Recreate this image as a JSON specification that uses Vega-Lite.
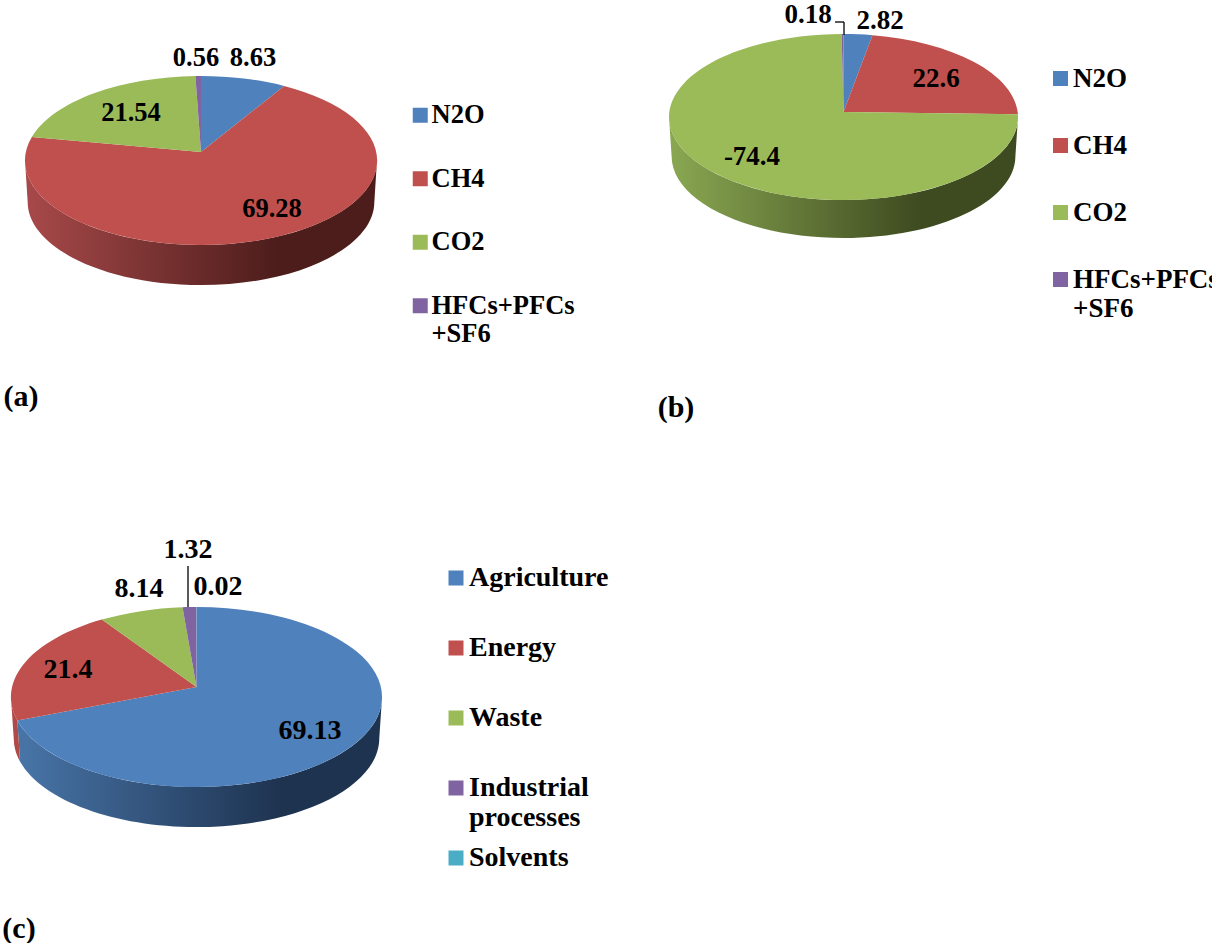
{"$schema":"https://vega.github.io/schema/vega-lite/v6.json","width":1212,"height":943,"autosize":{"type":"none"},"padding":0,"background":"white","config":{"view":{"stroke":null},"legend":{"title":null,"symbolType":"square","symbolSize":225,"symbolStrokeWidth":0,"labelFont":"Liberation Serif","labelFontWeight":"bold","labelColor":"black","labelLimit":400,"orient":"none"}},
"data":{"values":[
{"panel":"a","gas":"N2O","value":8.63},{"panel":"a","gas":"CH4","value":69.28},{"panel":"a","gas":"CO2","value":21.54},{"panel":"a","gas":"HFCs+PFCs +SF6","value":0.56},
{"panel":"b","gas":"N2O","value":2.82},{"panel":"b","gas":"CH4","value":22.6},{"panel":"b","gas":"CO2","value":-74.4},{"panel":"b","gas":"HFCs+PFCs +SF6","value":0.18},
{"panel":"c","gas":"Agriculture","value":69.13},{"panel":"c","gas":"Energy","value":21.4},{"panel":"c","gas":"Waste","value":8.14},{"panel":"c","gas":"Industrial processes","value":1.32},{"panel":"c","gas":"Solvents","value":0.02}]},
"transform":[
{"calculate":"abs(datum.value)","as":"share"},
{"calculate":"''+datum.value","as":"label"},
{"calculate":"datum.panel+'|'+datum.gas","as":"key"},
{"stack":"share","groupby":["panel"],"as":["s0","s1"]},
{"joinaggregate":[{"op":"sum","field":"share","as":"total"}],"groupby":["panel"]},
{"calculate":"{a:{rx:175.1,ry:83.7,k:0.1006,ex:176,ey:84.5,ce:8.5,d:41.3,cx:201,ay:152,fs:26.5},b:{rx:174.2,ry:82.7,k:0.0602,ex:174.5,ey:83,ce:5,d:39.3,cx:843.5,ay:112,fs:27},c:{rx:184.4,ry:88.9,k:0.111,ex:185.5,ey:90,ce:10,d:41.4,cx:196.5,ay:687,fs:28}}[datum.panel]","as":"geo"},
{"calculate":"datum.geo.cx","as":"cx"},{"calculate":"datum.geo.ay","as":"ay"},{"calculate":"datum.geo.fs","as":"fs"},
{"calculate":"2*PI*datum.s0/datum.total","as":"a0"},
{"calculate":"2*PI*datum.s1/datum.total","as":"a1"},
{"calculate":"(datum.a0+datum.a1)/2","as":"am"},
{"calculate":"round(100*datum.geo.rx*sin(datum.a0)/(1+datum.geo.k*cos(datum.a0)))/100","as":"x0"},
{"calculate":"round(-100*datum.geo.ry*cos(datum.a0)/(1+datum.geo.k*cos(datum.a0)))/100","as":"y0"},
{"calculate":"round(100*datum.geo.rx*sin(datum.am)/(1+datum.geo.k*cos(datum.am)))/100","as":"xm"},
{"calculate":"round(-100*datum.geo.ry*cos(datum.am)/(1+datum.geo.k*cos(datum.am)))/100","as":"ym"},
{"calculate":"round(100*datum.geo.rx*sin(datum.a1)/(1+datum.geo.k*cos(datum.a1)))/100","as":"x1"},
{"calculate":"round(-100*datum.geo.ry*cos(datum.a1)/(1+datum.geo.k*cos(datum.a1)))/100","as":"y1"},
{"calculate":"datum.geo.ex+','+datum.geo.ey+' 0 0 1 '","as":"arc"},
{"calculate":"'M0,0L'+datum.x0+','+datum.y0+'A'+datum.arc+datum.xm+','+datum.ym+'A'+datum.arc+datum.x1+','+datum.y1+'Z'","as":"top"},
{"calculate":"max(datum.a0,acos(-datum.geo.k))","as":"b0"},
{"calculate":"min(datum.a1,2*PI-acos(-datum.geo.k))","as":"b1"},
{"calculate":"(datum.b0+datum.b1)/2","as":"bm"},
{"calculate":"round(100*datum.geo.rx*sin(datum.b0)/(1+datum.geo.k*cos(datum.b0)))/100","as":"wx0"},
{"calculate":"round(-100*datum.geo.ry*cos(datum.b0)/(1+datum.geo.k*cos(datum.b0)))/100","as":"wy0"},
{"calculate":"round(100*datum.geo.rx*sin(datum.bm)/(1+datum.geo.k*cos(datum.bm)))/100","as":"wxm"},
{"calculate":"round(-100*datum.geo.ry*cos(datum.bm)/(1+datum.geo.k*cos(datum.bm)))/100","as":"wym"},
{"calculate":"round(100*datum.geo.rx*sin(datum.b1)/(1+datum.geo.k*cos(datum.b1)))/100","as":"wx1"},
{"calculate":"round(-100*datum.geo.ry*cos(datum.b1)/(1+datum.geo.k*cos(datum.b1)))/100","as":"wy1"},
{"calculate":"round(98.5*datum.wx0)/100+','+round(100*(datum.geo.ce+datum.geo.d+(datum.wy0-datum.geo.ce)*0.985))/100","as":"f0"},
{"calculate":"round(98.5*datum.wxm)/100+','+round(100*(datum.geo.ce+datum.geo.d+(datum.wym-datum.geo.ce)*0.985))/100","as":"fm"},
{"calculate":"round(98.5*datum.wx1)/100+','+round(100*(datum.geo.ce+datum.geo.d+(datum.wy1-datum.geo.ce)*0.985))/100","as":"f1"},
{"calculate":"round(98.5*datum.geo.ex)/100+','+round(98.5*datum.geo.ey)/100+' 0 0 0 '","as":"arcb"},
{"calculate":"'M'+datum.wx0+','+datum.wy0+'A'+datum.arc+datum.wxm+','+datum.wym+'A'+datum.arc+datum.wx1+','+datum.wy1+'L'+datum.f1+'A'+datum.arcb+datum.fm+'A'+datum.arcb+datum.f0+'Z'","as":"wall"},
{"calculate":"{'a|N2O':[253,58],'a|CH4':[272,209],'a|CO2':[131,113],'a|HFCs+PFCs +SF6':[196,58],'b|N2O':[880,21],'b|CH4':[936,79],'b|CO2':[752,157],'b|HFCs+PFCs +SF6':[808,15],'c|Agriculture':[310,731],'c|Energy':[68,670],'c|Waste':[139,589],'c|Industrial processes':[188,550],'c|Solvents':[218,587]}[datum.key]","as":"lp"},
{"calculate":"datum.lp[0]","as":"lx"},{"calculate":"datum.lp[1]","as":"ly"}
],
"layer":[
{"transform":[{"filter":"datum.key=='a|CH4'"}],"mark":{"type":"point","filled":true,"opacity":1,"strokeWidth":0,"fill":{"gradient":"linear","x1":0,"x2":1,"y1":0,"y2":0,"stops":[{"offset":0,"color":"#a8494a"},{"offset":0.72,"color":"#4c1d1b"},{"offset":1,"color":"#4c1d1b"}]}},"encoding":{"x":{"field":"cx","type":"quantitative","scale":{"domain":[0,1212],"nice":false,"zero":false},"axis":null},"y":{"field":"ay","type":"quantitative","scale":{"domain":[943,0],"nice":false,"zero":false},"axis":null},"size":{"value":4},"shape":{"field":"wall","type":"nominal","scale":null,"legend":null}}},
{"transform":[{"filter":"datum.key=='b|CO2'"}],"mark":{"type":"point","filled":true,"opacity":1,"strokeWidth":0,"fill":{"gradient":"linear","x1":0,"x2":1,"y1":0,"y2":0,"stops":[{"offset":0,"color":"#8aa852"},{"offset":0.72,"color":"#3e4a20"},{"offset":1,"color":"#3e4a20"}]}},"encoding":{"x":{"field":"cx","type":"quantitative","scale":{"domain":[0,1212],"nice":false,"zero":false},"axis":null},"y":{"field":"ay","type":"quantitative","scale":{"domain":[943,0],"nice":false,"zero":false},"axis":null},"size":{"value":4},"shape":{"field":"wall","type":"nominal","scale":null,"legend":null}}},
{"transform":[{"filter":"datum.key=='c|Agriculture'"}],"mark":{"type":"point","filled":true,"opacity":1,"strokeWidth":0,"fill":{"gradient":"linear","x1":0,"x2":1,"y1":0,"y2":0,"stops":[{"offset":0,"color":"#4875a8"},{"offset":0.72,"color":"#1e3350"},{"offset":1,"color":"#1e3350"}]}},"encoding":{"x":{"field":"cx","type":"quantitative","scale":{"domain":[0,1212],"nice":false,"zero":false},"axis":null},"y":{"field":"ay","type":"quantitative","scale":{"domain":[943,0],"nice":false,"zero":false},"axis":null},"size":{"value":4},"shape":{"field":"wall","type":"nominal","scale":null,"legend":null}}},
{"transform":[{"filter":"datum.key=='c|Energy'"}],"mark":{"type":"point","filled":true,"opacity":1,"strokeWidth":0,"fill":"#b04a47"},"encoding":{"x":{"field":"cx","type":"quantitative","scale":{"domain":[0,1212],"nice":false,"zero":false},"axis":null},"y":{"field":"ay","type":"quantitative","scale":{"domain":[943,0],"nice":false,"zero":false},"axis":null},"size":{"value":4},"shape":{"field":"wall","type":"nominal","scale":null,"legend":null}}},
{"transform":[{"filter":"datum.panel=='a'"}],"mark":{"type":"point","filled":true,"opacity":1,"strokeWidth":0},"encoding":{"x":{"field":"cx","type":"quantitative","scale":{"domain":[0,1212],"nice":false,"zero":false},"axis":null},"y":{"field":"ay","type":"quantitative","scale":{"domain":[943,0],"nice":false,"zero":false},"axis":null},"size":{"value":4},"shape":{"field":"top","type":"nominal","scale":null,"legend":null},"fill":{"field":"gas","type":"nominal","scale":{"domain":["N2O","CH4","CO2","HFCs+PFCs +SF6"],"range":["#4f81bd","#c0504d","#9bbb59","#8064a2"]},"legend":{"legendX":407,"legendY":102,"labelFontSize":26.5,"rowPadding":36.5,"labelOffset":-2,"labelExpr":"split(datum.label,' ')"}}}},
{"transform":[{"filter":"datum.panel=='b'"}],"mark":{"type":"point","filled":true,"opacity":1,"strokeWidth":0},"encoding":{"x":{"field":"cx","type":"quantitative","scale":{"domain":[0,1212],"nice":false,"zero":false},"axis":null},"y":{"field":"ay","type":"quantitative","scale":{"domain":[943,0],"nice":false,"zero":false},"axis":null},"size":{"value":4},"shape":{"field":"top","type":"nominal","scale":null,"legend":null},"fill":{"field":"gas","type":"nominal","scale":{"domain":["N2O","CH4","CO2","HFCs+PFCs +SF6"],"range":["#4f81bd","#c0504d","#9bbb59","#8064a2"]},"legend":{"legendX":1047,"legendY":65,"labelFontSize":27,"rowPadding":39,"labelOffset":-1,"labelExpr":"split(datum.label,' ')"}}}},
{"transform":[{"filter":"datum.panel=='c'"}],"mark":{"type":"point","filled":true,"opacity":1,"strokeWidth":0},"encoding":{"x":{"field":"cx","type":"quantitative","scale":{"domain":[0,1212],"nice":false,"zero":false},"axis":null},"y":{"field":"ay","type":"quantitative","scale":{"domain":[943,0],"nice":false,"zero":false},"axis":null},"size":{"value":4},"shape":{"field":"top","type":"nominal","scale":null,"legend":null},"fill":{"field":"gas","type":"nominal","scale":{"domain":["Agriculture","Energy","Waste","Industrial processes","Solvents"],"range":["#4f81bd","#c0504d","#9bbb59","#8064a2","#4bacc6"]},"legend":{"legendX":442,"legendY":564,"labelFontSize":28,"rowPadding":12,"gridAlign":"all","labelOffset":-1,"labelExpr":"split(datum.label,' ')"}}}},
{"mark":{"type":"text","font":"Liberation Serif","fontWeight":"bold","color":"black","align":"center","baseline":"middle"},"encoding":{"x":{"field":"lx","type":"quantitative","scale":{"domain":[0,1212],"nice":false,"zero":false},"axis":null},"y":{"field":"ly","type":"quantitative","scale":{"domain":[943,0],"nice":false,"zero":false},"axis":null},"text":{"field":"label","type":"nominal"},"size":{"field":"fs","type":"quantitative","scale":null}}},
{"transform":[{"filter":"datum.key=='c|Industrial processes'||datum.key=='b|HFCs+PFCs +SF6'"},{"calculate":"datum.panel=='c'?188:844","as":"rx"},{"calculate":"datum.panel=='c'?566:22","as":"ry0"},{"calculate":"datum.panel=='c'?607:35","as":"ry1"}],"mark":{"type":"rule","color":"black","strokeWidth":1.3},"encoding":{"x":{"field":"rx","type":"quantitative","scale":{"domain":[0,1212],"nice":false,"zero":false},"axis":null},"y":{"field":"ry0","type":"quantitative","scale":{"domain":[943,0],"nice":false,"zero":false},"axis":null},"y2":{"field":"ry1"}}},
{"transform":[{"filter":"datum.key=='b|HFCs+PFCs +SF6'"},{"calculate":"835","as":"hx0"},{"calculate":"844","as":"hx1"},{"calculate":"22","as":"hy"}],"mark":{"type":"rule","color":"black","strokeWidth":1.3},"encoding":{"x":{"field":"hx0","type":"quantitative","scale":{"domain":[0,1212],"nice":false,"zero":false},"axis":null},"x2":{"field":"hx1"},"y":{"field":"hy","type":"quantitative","scale":{"domain":[943,0],"nice":false,"zero":false},"axis":null}}},
{"data":{"values":[{"tag":"(a)","tx":21,"ty":397},{"tag":"(b)","tx":676,"ty":408},{"tag":"(c)","tx":19,"ty":929}]},"mark":{"type":"text","font":"Liberation Serif","fontWeight":"bold","fontSize":30,"color":"black","align":"center","baseline":"middle"},"encoding":{"x":{"field":"tx","type":"quantitative","scale":{"domain":[0,1212],"nice":false,"zero":false},"axis":null},"y":{"field":"ty","type":"quantitative","scale":{"domain":[943,0],"nice":false,"zero":false},"axis":null},"text":{"field":"tag","type":"nominal"}}}
],
"resolve":{"scale":{"fill":"independent"},"legend":{"fill":"independent"}}}
